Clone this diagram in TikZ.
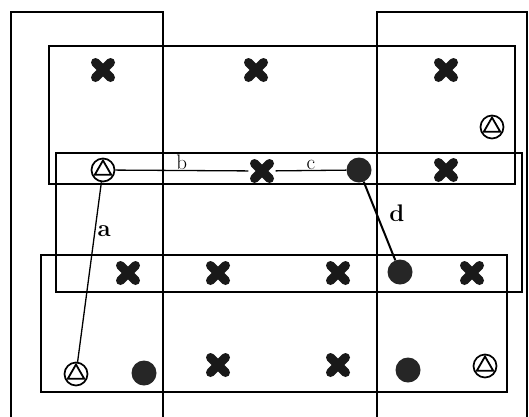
\documentclass[tikz,border=0pt]{standalone}
\usepackage{fontspec}
\begin{document}
\begin{tikzpicture}[
                x=1pt, y=-1pt,
                box/.style={line width=2.6pt},
                link/.style={line width=1.3pt},
                cross/.style={rectangle, minimum size=27pt, inner sep=0pt,
                        path picture={
                                \draw[line width=9pt, line cap=round, black!90]
                                    ([shift={(6pt,-6pt)}]path picture bounding box.north west) --
                                    ([shift={(-6pt,6pt)}]path picture bounding box.south east)
                                    ([shift={(6pt,6pt)}]path picture bounding box.south west) --
                                    ([shift={(-6pt,-6pt)}]path picture bounding box.north east);
                            }},
                dot/.style={circle, fill=black!85, minimum size=25pt, inner sep=0pt},
                tri/.style={circle, draw, line width=1.7pt, minimum size=23pt, inner sep=0pt,
                        path picture={
                                \draw[line width=1.8pt]
                                    ([shift={(90:9.5pt)}]path picture bounding box.center) --
                                    ([shift={(210:9.5pt)}]path picture bounding box.center) --
                                    ([shift={(330:9.5pt)}]path picture bounding box.center) -- cycle;
                            }},
                tag/.style={font=\bfseries\fontsize{24}{24}\selectfont, inner sep=1pt},
                thintag/.style={font=\fontsize{21}{21}\selectfont, inner sep=0.5pt}
            ]

            \clip (0,0) rectangle (529,416);
            \fill[white] (0,0) rectangle (529,416);

            \draw[box] (11,12) rectangle (163,430);
            \draw[box] (377,12) rectangle (527,430);
            \draw[box] (49,46) rectangle (515,184);
            \draw[box] (56,153) rectangle (522,292);
            \draw[box] (41,255) rectangle (507,392);

            \node[cross] (x1) at (103,70) {};
            \node[cross] (x2) at (256,70) {};
            \node[cross] (x3) at (446,70) {};
            \node[tri] (t2) at (492,127) {};

            \node[tri] (t1) at (103,170) {};
            \node[cross] (x4) at (262,171) {};
            \node[dot] (d1) at (359,170) {};
            \node[cross] (x5) at (446,170) {};

            \node[cross] (x6) at (128,273) {};
            \node[cross] (x7) at (218,273) {};
            \node[cross] (x8) at (338,273) {};
            \node[dot] (d2) at (400,272) {};
            \node[cross] (x9) at (472,273) {};

            \node[tri] (t3) at (76,374) {};
            \node[dot] (d3) at (144,373) {};
            \node[cross] (x10) at (218,365) {};
            \node[cross] (x11) at (338,365) {};
            \node[dot] (d4) at (408,370) {};
            \node[tri] (t4) at (485,366) {};

            \draw[link] (t1) -- node[tag, pos=0.27, anchor=west, xshift=1pt] {a} (t3);
            \draw[link] (t1) -- node[thintag, above] {b} (x4);
            \draw[link] (x4) -- node[thintag, above] {c} (d1);
            \draw[line width=2pt] (d1) -- node[tag, pos=0.4, anchor=west, xshift=11pt] {d} (d2);

        \end{tikzpicture}
\end{document}
